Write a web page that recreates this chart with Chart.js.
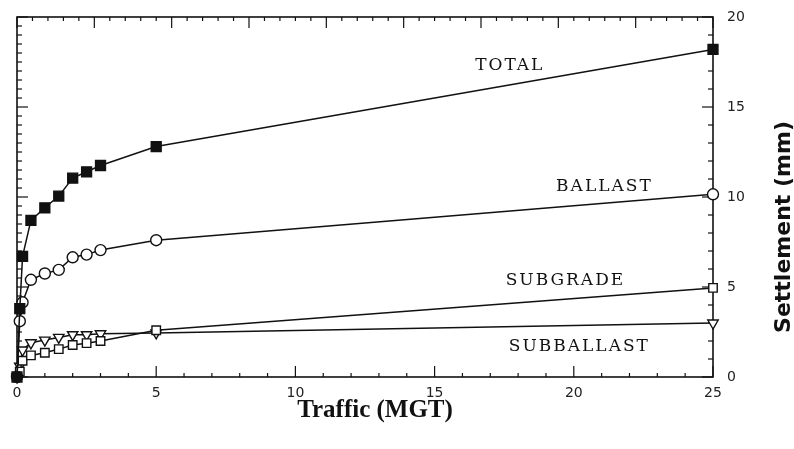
<!DOCTYPE html>
<html>
<head>
<meta charset="utf-8">
<script src="https://cdn.jsdelivr.net/npm/chart.js@4.4.1/dist/chart.umd.min.js"></script>
<style>
  html, body { margin: 0; padding: 0; background: #fff; }
  #wrap { width: 794px; height: 449px; }
</style>
</head>
<body>
<div id="wrap"><canvas id="chart-settlement"></canvas></div>
<script>
// ── Data ────────────────────────────────────
const traffic    = [0, 0.1, 0.2, 0.5, 1, 1.5, 2, 2.5, 3, 5, 25];
const total      = [0, 3.8, 6.7, 8.7, 9.4, 10.05, 11.05, 11.4, 11.75, 12.8, 18.2];
const ballast    = [0, 3.1, 4.15, 5.4, 5.75, 5.95, 6.65, 6.8, 7.05, 7.6, 10.15];
const subgrade   = [0, 0.3, 0.9, 1.2, 1.35, 1.55, 1.78, 1.88, 2.0, 2.6, 4.95];
const subballast = [0, 0.6, 1.5, 1.9, 2.05, 2.2, 2.35, 2.35, 2.4, 2.45, 3.0];

const xTicks = [0, 5, 10, 15, 20, 25];
const yTicks = [0, 5, 10, 15, 20];

const seriesNames  = ['TOTAL', 'BALLAST', 'SUBGRADE', 'SUBBALLAST'];
// posisi label seri (dalam satuan data)
const labelTraffic = [17.7, 21.1, 19.7, 20.2];
const labelValue   = [17.3, 10.6, 5.35, 1.7];

const toPoints = (vals) => traffic.map((t, i) => ({ x: t, y: vals[i] }));

// ── Plugin: bingkai + tick ke dalam ─────────────────
const frameTicks = {
    id: 'frameTicks',
    beforeDatasetsDraw(chart) {
        const { ctx, chartArea: a, scales } = chart;
        ctx.save();
        ctx.strokeStyle = '#111';
        ctx.lineWidth = 1.6;
        ctx.strokeRect(a.left, a.top, a.right - a.left, a.bottom - a.top);
        ctx.lineWidth = 1.2;

        const tickH = (scale, from, to, step, majorEvery, y, dir) => {
            let k = 0;
            for (let v = from; v <= to + 1e-9; v += step, k++) {
                const px = scale.getPixelForValue(v);
                const len = (k % majorEvery === 0) ? 11 : 4;
                ctx.beginPath();
                ctx.moveTo(px, y);
                ctx.lineTo(px, y + dir * len);
                ctx.stroke();
            }
        };
        const tickV = (scale, from, to, step, majorEvery, x, dir) => {
            let k = 0;
            for (let v = from; v <= to + 1e-9; v += step, k++) {
                const py = scale.getPixelForValue(v);
                const len = (k % majorEvery === 0) ? 11 : 5;
                ctx.beginPath();
                ctx.moveTo(x, py);
                ctx.lineTo(x + dir * len, py);
                ctx.stroke();
            }
        };
        tickH(scales.x, 0, 25, 1, 5, a.bottom, -1);
        tickH(scales.xTop, 0, 9, 0.2, 5, a.top, 1);
        tickV(scales.y, 0, 20, 1, 5, a.right, -1);
        tickV(scales.yLeft, 0, 4, 0.1, 10, a.left, 1);
        ctx.restore();
    },
    afterDraw(chart) {
        const { ctx, chartArea: a, scales } = chart;
        ctx.save();
        ctx.fillStyle = '#111';
        // label seri
        ctx.font = '17px "DejaVu Serif"';
        ctx.letterSpacing = '2px';
        ctx.textAlign = 'center';
        ctx.textBaseline = 'middle';
        seriesNames.forEach((name, i) => {
            ctx.fillText(name, scales.x.getPixelForValue(labelTraffic[i]), scales.y.getPixelForValue(labelValue[i]));
        });
        ctx.letterSpacing = '0px';
        // judul sumbu
        ctx.font = 'bold 25px "Liberation Serif"';
        ctx.fillText('Traffic (MGT)', 375, 411);
        ctx.translate(784, 227);
        ctx.rotate(-Math.PI / 2);
        ctx.font = 'bold 22px "DejaVu Sans"';
        ctx.fillText('Settlement (mm)', 0, 0);
        ctx.restore();
    }
};

const common = {
    showLine: true,
    clip: false,
    borderColor: '#111',
    borderWidth: 1.5,
    pointBorderColor: '#111',
    pointBorderWidth: 1.4,
    pointBackgroundColor: '#fff'
};

const ctx = document.getElementById('chart-settlement').getContext('2d');
new Chart(ctx, {
    type: 'scatter',
    data: {
        datasets: [
            { ...common, label: seriesNames[0], data: toPoints(total), pointStyle: 'rect', pointRadius: 7, pointBackgroundColor: '#111' },
            { ...common, label: seriesNames[1], data: toPoints(ballast), pointStyle: 'circle', pointRadius: 5.5 },
            { ...common, label: seriesNames[2], data: toPoints(subgrade), pointStyle: 'rect', pointRadius: 6 },
            { ...common, label: seriesNames[3], data: toPoints(subballast), pointStyle: 'triangle', pointRotation: 180, pointRadius: 6 }
        ]
    },
    options: {
        responsive: true,
        maintainAspectRatio: false,
        animation: false,
        layout: { padding: { left: 17, top: 17, right: 0, bottom: 0 } },
        plugins: { legend: { display: false }, tooltip: { enabled: false } },
        scales: {
            x: {
                type: 'linear', position: 'bottom', min: 0, max: 25,
                grid: { display: false }, border: { display: false },
                afterBuildTicks: (s) => { s.ticks = xTicks.map(v => ({ value: v })); },
                afterFit: (s) => { s.height = 72; },
                ticks: { color: '#222', font: { family: 'DejaVu Sans', size: 14 }, padding: 0, maxRotation: 0 }
            },
            y: {
                type: 'linear', position: 'right', min: 0, max: 20,
                grid: { display: false }, border: { display: false },
                afterBuildTicks: (s) => { s.ticks = yTicks.map(v => ({ value: v })); },
                afterFit: (s) => { s.width = 81; },
                ticks: { color: '#222', font: { family: 'DejaVu Sans', size: 14 }, padding: 6 }
            },
            xTop: { type: 'linear', position: 'top', min: 0, max: 9, display: false },
            yLeft: { type: 'linear', position: 'left', min: 0, max: 4, display: false }
        }
    },
    plugins: [frameTicks]
});
</script>
</body>
</html>
